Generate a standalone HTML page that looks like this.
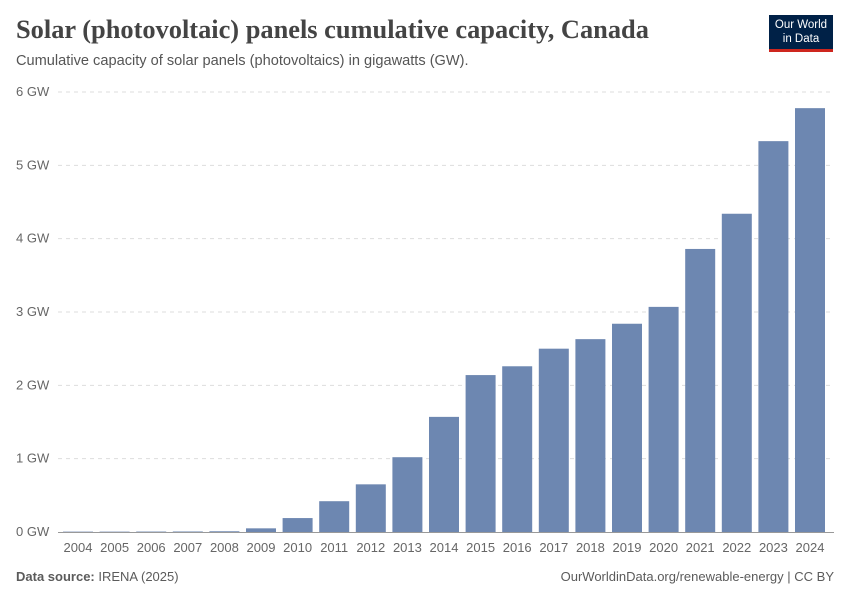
<!DOCTYPE html>
<html><head><meta charset="utf-8"><style>
body{margin:0;width:850px;height:600px;background:#fff;font-family:"Liberation Sans",sans-serif;overflow:hidden;position:relative}
.t{position:absolute;white-space:nowrap}
</style></head><body>
<div class="t" style="left:16px;top:14px;font-family:'Liberation Serif',serif;font-size:26.4px;font-weight:bold;color:#444">Solar (photovoltaic) panels cumulative capacity, Canada</div>
<div class="t" style="left:16px;top:53px;font-size:14.6px;color:#555">Cumulative capacity of solar panels (photovoltaics) in gigawatts (GW).</div>
<div style="position:absolute;left:769px;top:15px;width:64px;height:37px;background:#002147;border-bottom:3px solid #ce261e;color:#fff;font-size:11.5px;line-height:14px;text-align:center;padding-top:3px;box-sizing:border-box">Our World<br>in Data</div>
<svg id="chart" width="850" height="600" style="position:absolute;left:0;top:0"></svg>
<div class="t" style="left:16px;top:569px;font-size:13px;color:#5b5b5b"><b>Data source:</b> IRENA (2025)</div>
<div class="t" style="right:16px;top:569px;font-size:13px;color:#5b5b5b">OurWorldinData.org/renewable-energy | CC BY</div>
<script>
const years=["2004","2005","2006","2007","2008","2009","2010","2011","2012","2013","2014","2015","2016","2017","2018","2019","2020","2021","2022","2023","2024"];
const capacity=[0.005,0.005,0.006,0.007,0.01,0.05,0.19,0.42,0.65,1.02,1.57,2.14,2.26,2.50,2.63,2.84,3.07,3.86,4.34,5.33,5.78];
const yTicks=[0,1,2,3,4,5,6];
const svg=document.getElementById('chart');
const NS='http://www.w3.org/2000/svg';
const y0=532,pxPer=73.33,x0=78,step=36.6,bw=30;
const yS=v=>y0-v*pxPer, xS=i=>x0+i*step;
function mk(t,a){const e=document.createElementNS(NS,t);for(const k in a)e.setAttribute(k,a[k]);svg.appendChild(e);return e;}
yTicks.forEach(v=>{
 if(v>0){const l=mk('line',{x1:58,x2:834,y1:yS(v),y2:yS(v),stroke:'#ddd','stroke-dasharray':'4,4'});
 
 }
 const t=mk('text',{x:16,y:yS(v)+4,'font-size':13,fill:'#666','font-family':'Liberation Sans,sans-serif'});t.textContent=v+' GW';
 
 
});
capacity.forEach((v,i)=>{
 const r=mk('rect',{x:xS(i)-bw/2,y:yS(v),width:bw,height:Math.max(v*pxPer,0.5),fill:'#6d87b1'});
 
 
 const t=mk('text',{x:xS(i),y:552,'font-size':13,fill:'#666','text-anchor':'middle','font-family':'Liberation Sans,sans-serif'});t.textContent=years[i];
 
 
});
const ax=mk('line',{x1:58,x2:834,y1:y0+0.5,y2:y0+0.5,stroke:'#999'});


</script>
</body></html>
